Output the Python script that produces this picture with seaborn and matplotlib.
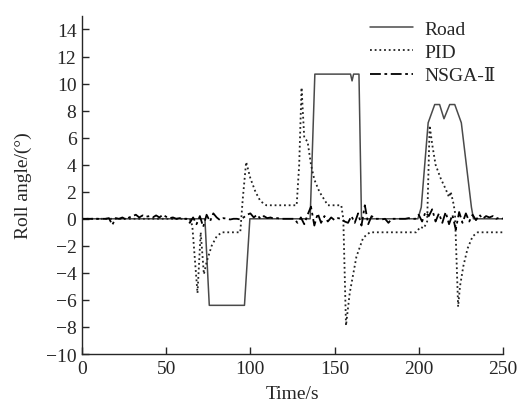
import numpy as np
import pandas as pd
import matplotlib
matplotlib.use("Agg")
import matplotlib.pyplot as plt
import seaborn as sns

# Road input (solid)
road_t = [0, 73, 75.6, 96.5, 99.7, 135.5, 138.3, 159.5, 160.4, 161.3, 164.5, 166,
          199.5, 201.5, 205.6, 209.5, 212.4, 215, 218.4, 221.4, 225.3, 231.3, 232.5, 250]
road_v = [0, 0, -6.4, -6.4, 0, 0, 10.7, 10.7, 10.2, 10.7, 10.7, 0,
          0, 0.85, 7.1, 8.45, 8.45, 7.4, 8.45, 8.45, 7.1, 0.85, 0, 0]

# PID response (dotted)
pid_t = [0, 64, 65.5, 68.6, 70.5, 72.4, 74, 77, 80, 83, 94, 95.5, 97.5, 100, 103, 106,
         109.5, 127.5, 129, 130.4, 132, 134, 136, 138, 141, 144, 146, 154, 155.2, 156.8,
         159, 163, 167, 171, 198.5, 201, 203, 205, 206.5, 208, 210, 213, 216, 218, 219,
         220.5, 221.5, 223.4, 224.5, 226.5, 229, 232, 235, 250]
pid_v = [0, 0, -0.5, -5.5, -1.0, -4.1, -3.2, -2.0, -1.3, -1.0, -1.0, 1.5, 4.2, 3.0, 2.0, 1.3,
         1.0, 1.0, 4.0, 9.7, 6.0, 5.7, 4.0, 2.9, 2.0, 1.4, 1.0, 1.0, 0.0, -7.9,
         -5.5, -2.8, -1.4, -1.0, -1.0, -0.6, -0.7, -0.2, 6.9, 5.5, 4.0, 3.0, 2.2, 1.6, 2.0,
         1.2, 0.5, -6.5, -5.0, -3.5, -2.2, -1.3, -1.0, -1.0]

# NSGA-II response (dash-dot), sampled every 2 s
nsga_t = np.arange(0, 251, 2)
nsga_v = [0, 0, 0, 0, 0, 0, 0, 0, 0.05, -0.45,
          0.05, 0.0, 0.1, -0.05, 0.1, 0.2, 0.3, 0.1, 0.25, 0.15,
          0.2, 0.1, 0.25, 0.1, 0.3, 0.15, 0.05, 0.1, 0.0, 0.05,
          0.0, 0.0, -0.3, 0.1, -0.4, 0.2, -0.6, 0.3, -0.2, 0.4,
          0.1, -0.1, 0.05, 0.0, -0.05, 0.0, 0.0, -0.05, 0.1, 0.3,
          0.4, 0.1, 0.3, 0.0, 0.2, 0.05, 0.1, 0.0, 0.05, 0.0,
          0.0, 0.0, 0.0, 0.0, -0.3, 0.1, -0.4, 0.3, 0.9, -0.5,
          0.4, -0.3, 0.2, -0.2, 0.1, -0.1, 0.05, 0.0, -0.2, -0.3,
          0.2, -0.3, 0.4, -0.5, 1.0, -0.4, 0.2, 0.0, 0.0, -0.05,
          0.0, -0.3, 0.0, 0.0, 0.0, 0.0, 0.0, 0.05, 0.0, 0.0,
          0.3, -0.2, 0.5, 0.2, 0.7, -0.2, 0.4, -0.3, 0.5, -0.4,
          0.3, -0.8, 0.5, -0.3, 0.4, -0.2, 0.3, -0.1, 0.3, 0.0,
          0.2, 0.1, 0.2, 0.0, 0.1,
          0.0]

sns.set_style("ticks")
plt.rcParams['font.family'] = ['Liberation Serif', 'DejaVu Serif']
plt.rcParams['font.size'] = 14

fig = plt.figure(figsize=(5.19, 4.14), dpi=100)
ax = fig.add_axes([0.158, 0.1425, 0.811, 0.8165])

road = pd.DataFrame({'t': road_t, 'v': road_v})
pid = pd.DataFrame({'t': pid_t, 'v': pid_v})
nsga = pd.DataFrame({'t': nsga_t, 'v': nsga_v})

sns.lineplot(data=road, x='t', y='v', ax=ax, color='#4a4a4a', lw=1.1, label='Road', estimator=None)
sns.lineplot(data=pid, x='t', y='v', ax=ax, color='#222222', lw=1.3, ls=(0, (1, 1.6)),
             label='PID', estimator=None)
sns.lineplot(data=nsga, x='t', y='v', ax=ax, color='black', lw=1.3, ls=(0, (6, 2, 1.5, 2)),
             label='NSGA-Ⅱ', estimator=None)

ax.set_xlim(0, 250)
ax.set_ylim(-10, 15)
ax.set_xticks(range(0, 251, 50))
ax.set_yticks(range(-10, 15, 2))
ax.tick_params(direction='in', length=5, width=1, labelsize=14, pad=4)
for s in ['left', 'bottom']:
    ax.spines[s].set_linewidth(1.0)
sns.despine(ax=ax)

ax.set_xlabel('Time/s', fontsize=14, labelpad=6)
ax.set_ylabel('Roll angle/(°)', fontsize=14, labelpad=10)

ax.legend(loc='upper right', bbox_to_anchor=(1.025, 1.04), frameon=False, fontsize=14,
          handlelength=2.2, handletextpad=0.6, labelspacing=0.3)

fig.savefig('out.png', dpi=100)
